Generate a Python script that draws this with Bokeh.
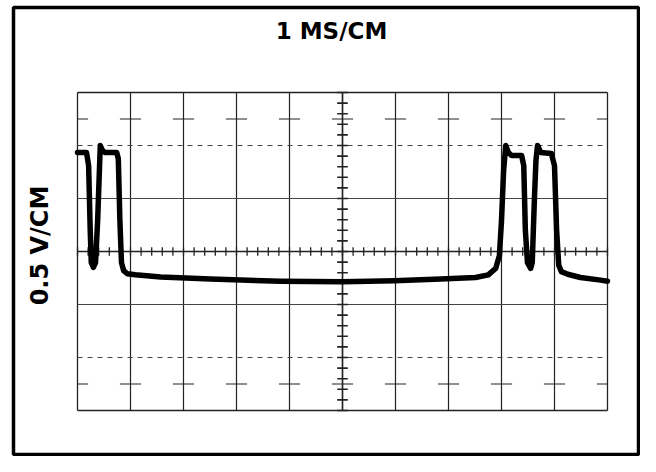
import numpy as np
from bokeh.plotting import figure
from bokeh.models import Range1d
from bokeh.core.properties import value
from bokeh.embed import file_html
from bokeh.resources import INLINE

# ---- data ----
title_text = "1 MS/CM"
ylabel_text = "0.5 V/CM"
time_ms = [0.00, 0.17, 0.21, 0.24, 0.26, 0.30, 0.34, 0.38, 0.42, 0.43, 0.47, 0.51,
           0.74, 0.77, 0.80, 0.83, 0.87, 0.94, 1.09, 1.57, 2.51, 3.83, 5.00, 5.98,
           6.85, 7.51, 7.75, 7.89, 7.96, 8.00, 8.04, 8.08, 8.13, 8.19, 8.38, 8.42,
           8.45, 8.49, 8.55, 8.58, 8.62, 8.65, 8.68, 8.74, 8.94, 9.00, 9.04, 9.08,
           9.13, 9.25, 9.49, 9.87, 10.00]
volts = [0.935, 0.935, 0.81, 0.20, -0.105, -0.15, -0.105, 0.29, 0.86, 1.00, 0.955, 0.935,
         0.935, 0.875, 0.29, -0.105, -0.18, -0.21, -0.22, -0.24, -0.26, -0.28, -0.285, -0.275,
         -0.26, -0.245, -0.22, -0.16, -0.04, 0.29, 0.765, 1.00, 0.935, 0.905, 0.905, 0.81,
         0.20, -0.105, -0.16, -0.105, 0.48, 0.86, 1.00, 0.935, 0.925, 0.81, 0.20, -0.13,
         -0.19, -0.215, -0.245, -0.27, -0.28]

# ---- screen geometry (pixels within the picture) ----
DIV = 53.0              # px per division
GX0, GY0 = 77.0, 251.0  # screen px of time 0 / 0 V
VPD = 0.5               # volts per division
W, H = 640, 456
FL, FR, FT, FB = 13.0, 638.0, 7.0, 454.0  # outer frame

def sx(px):
    return (px - GX0) / DIV

def sy(py):
    return (GY0 - py) / DIV * VPD

p = figure(width=W, height=H, output_backend="svg", toolbar_location=None,
           x_axis_location=None, y_axis_location=None,
           x_range=Range1d(sx(FL), sx(FR)), y_range=Range1d(sy(FB), sy(FT)),
           min_border_left=int(FL), min_border_right=int(W - FR),
           min_border_top=int(FT), min_border_bottom=int(H - FB))
p.grid.visible = False
p.outline_line_color = "black"
p.outline_line_width = 3.5
p.background_fill_color = "white"
p.border_fill_color = "white"

gc = "#222222"
# graticule border
p.segment(x0=[0, 10, 0, 0], y0=[-1.5, -1.5, -1.5, 1.5], x1=[0, 10, 10, 10], y1=[1.5, 1.5, -1.5, 1.5],
          line_color=gc, line_width=1.3)
# vertical lines
vx = list(range(1, 10))
p.segment(x0=vx, y0=[-1.5] * 9, x1=vx, y1=[1.5] * 9, line_color=gc, line_width=1.2)
# horizontal lines at +-0.5 V and center
p.segment(x0=[0, 0], y0=[0.5, -0.5], x1=[10, 10], y1=[0.5, -0.5], line_color="#444444", line_width=1.0)
p.segment(x0=[0], y0=[0], x1=[10], y1=[0], line_color=gc, line_width=1.3)
# dashed lines at +-1 V
p.segment(x0=[0, 0], y0=[1.0, -1.0], x1=[10, 10], y1=[1.0, -1.0], line_color="#444444",
          line_width=1.0, line_dash="5 5")
# crosses at +-1.25 V
cx0, cx1, cy = [], [], []
for yv in (1.25, -1.25):
    for xv in range(0, 11):
        cx0.append(max(0, xv - 0.2)); cx1.append(min(10, xv + 0.2)); cy.append(yv)
p.segment(x0=cx0, y0=cy, x1=cx1, y1=cy, line_color=gc, line_width=1.2)
# minor ticks on center vertical axis
ty = [round(-1.5 + 0.1 * i, 3) for i in range(31)]
p.segment(x0=[4.9] * len(ty), y0=ty, x1=[5.1] * len(ty), y1=ty, line_color=gc, line_width=1.6)
# minor ticks on center horizontal axis
tx = [round(0.2 * i, 3) for i in range(51)]
p.segment(x0=tx, y0=[-0.04] * len(tx), x1=tx, y1=[0.04] * len(tx), line_color=gc, line_width=1.3)
# center vertical axis
p.segment(x0=[5], y0=[-1.5], x1=[5], y1=[1.5], line_color=gc, line_width=1.5)

# trace
p.line(time_ms, volts, line_color="black", line_width=5.5, line_join="round", line_cap="round")

# texts
p.text(x=[sx(331)], y=[sy(30)], text=[title_text], text_align="center", text_baseline="middle",
       text_font=value("DejaVu Sans"), text_font_size="23px", text_font_style="bold",
       text_color="black")
p.text(x=[sx(39)], y=[sy(245)], text=[ylabel_text], angle=np.pi / 2, text_align="center",
       text_baseline="middle", text_font=value("DejaVu Sans"), text_font_size="24px",
       text_font_style="bold", text_color="black")

open("out.html", "w").write(file_html(p, INLINE))
